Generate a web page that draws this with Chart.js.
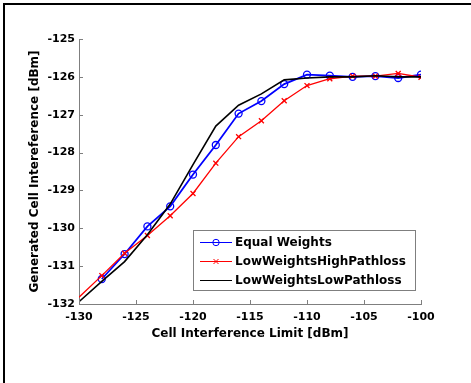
<!DOCTYPE html>
<html>
<head>
<meta charset="utf-8">
<script src="https://cdn.jsdelivr.net/npm/chart.js"></script>
<style>
  html, body { margin: 0; padding: 0; background: #fff; }
  #wrap { position: relative; width: 471px; height: 383px; }
</style>
</head>
<body>
<div id="wrap"><canvas id="myChart" width="471" height="383"></canvas></div>
<script>
// Data
const limits = [-130, -128, -126, -124, -122, -120, -118, -116, -114, -112, -110, -108, -106, -104, -102, -100];
const equalWeights = [null, -131.34, -130.68, -129.95, -129.42, -128.58, -127.80, -126.97, -126.64, -126.19, -125.94, -125.97, -126.00, -125.98, -126.03, -125.94];
const lowHighPathloss = [-131.82, -131.25, -130.66, -130.19, -129.67, -129.08, -128.28, -127.58, -127.16, -126.63, -126.23, -126.05, -125.98, -125.98, -125.91, -126.01];
const lowLowPathloss = [-131.94, -131.40, -130.88, -130.17, -129.36, -128.32, -127.30, -126.75, -126.45, -126.08, -126.03, -126.00, -126.00, -125.97, -126.00, -126.00];
const seriesNames = ['Equal Weights', 'LowWeightsHighPathloss', 'LowWeightsLowPathloss'];
const xTitle = 'Cell Interference Limit [dBm]';
const yTitle = 'Generated Cell Intereference [dBm]';

const FONT = 'DejaVu Sans';
const AXIS_GRAY = '#7f7f7f';

function pts(ys) {
  return limits.map((x, i) => ({ x, y: ys[i] })).filter(p => p.y !== null);
}

// frame lines (top + left) around the figure
const framePlugin = {
  id: 'frame',
  afterDraw(chart) {
    const ctx = chart.ctx;
    ctx.save();
    ctx.fillStyle = '#000';
    ctx.fillRect(3, 3, 468, 2);
    ctx.fillRect(3, 3, 2, 380);
    ctx.restore();
  }
};

// inward tick marks like matlab
const innerTicks = {
  id: 'innerTicks',
  afterDraw(chart) {
    const { ctx, chartArea: a } = chart;
    const xs = chart.scales.x, ys = chart.scales.y;
    ctx.save();
    ctx.strokeStyle = AXIS_GRAY;
    ctx.lineWidth = 1;
    ctx.beginPath();
    ys.ticks.forEach(t => {
      const py = Math.round(ys.getPixelForValue(t.value)) + 0.5;
      ctx.moveTo(a.left, py);
      ctx.lineTo(a.left + 4, py);
    });
    xs.ticks.forEach(t => {
      const px = Math.round(xs.getPixelForValue(t.value)) + 0.5;
      ctx.moveTo(px, a.bottom);
      ctx.lineTo(px, a.bottom - 4);
    });
    ctx.stroke();
    ctx.restore();
  }
};

// boxed legend inside the plot
const boxLegend = {
  id: 'boxLegend',
  afterDraw(chart) {
    const ctx = chart.ctx;
    const bx = 193.5, by = 230.5, bw = 222, bh = 60;
    const rows = [242.5, 261.5, 280.5];
    ctx.save();
    ctx.fillStyle = '#fff';
    ctx.fillRect(bx, by, bw, bh);
    ctx.strokeStyle = AXIS_GRAY;
    ctx.lineWidth = 1;
    ctx.strokeRect(bx, by, bw, bh);
    ctx.font = 'bold 12px "' + FONT + '"';
    ctx.textBaseline = 'middle';
    ctx.textAlign = 'left';
    chart.data.datasets.forEach((ds, i) => {
      const y = rows[i];
      ctx.strokeStyle = ds.borderColor;
      ctx.lineWidth = 1;
      ctx.beginPath();
      ctx.moveTo(200, y);
      ctx.lineTo(232, y);
      ctx.stroke();
      if (ds.pointStyle === 'circle') {
        ctx.beginPath();
        ctx.arc(216, y, 3.2, 0, Math.PI * 2);
        ctx.stroke();
      } else if (ds.pointStyle === 'crossRot') {
        ctx.beginPath();
        ctx.moveTo(213.5, y - 2.5); ctx.lineTo(218.5, y + 2.5);
        ctx.moveTo(218.5, y - 2.5); ctx.lineTo(213.5, y + 2.5);
        ctx.stroke();
      }
      ctx.fillStyle = '#000';
      ctx.fillText(ds.label, 235, y + 0.5);
    });
    ctx.restore();
  }
};

const ctx = document.getElementById('myChart').getContext('2d');
new Chart(ctx, {
  type: 'line',
  data: {
    datasets: [
      {
        label: seriesNames[0],
        data: pts(equalWeights),
        borderColor: '#0000ff',
        borderWidth: 1.8,
        pointStyle: 'circle',
        pointRadius: 3.5,
        pointBorderWidth: 1.3,
        pointBackgroundColor: 'rgba(0,0,0,0)',
        pointBorderColor: '#0000ff',
        order: 2
      },
      {
        label: seriesNames[1],
        data: pts(lowHighPathloss),
        borderColor: '#ff0000',
        borderWidth: 1.3,
        pointStyle: 'crossRot',
        pointRadius: lowHighPathloss.map((v, i) => i === 0 ? 0 : 3.5),
        pointBorderWidth: 1.3,
        pointBorderColor: '#ff0000',
        order: 1
      },
      {
        label: seriesNames[2],
        data: pts(lowLowPathloss),
        borderColor: '#000000',
        borderWidth: 1.6,
        pointStyle: false,
        pointRadius: 0,
        order: 0
      }
    ]
  },
  options: {
    responsive: false,
    animation: false,
    devicePixelRatio: 1,
    layout: { padding: { left: 0, right: 50, top: 39, bottom: 0 } },
    plugins: {
      legend: { display: false },
      tooltip: { enabled: false }
    },
    elements: { line: { tension: 0, fill: false } },
    scales: {
      x: {
        type: 'linear',
        min: -130,
        max: -100,
        afterFit: (s) => { s.height = 79; },
        grid: { display: false, drawTicks: false },
        border: { display: true, color: AXIS_GRAY, width: 1 },
        ticks: {
          stepSize: 5,
          padding: 7,
          color: '#000',
          font: { family: FONT, size: 11, weight: 'bold' },
          maxRotation: 0
        },
        title: {
          display: true,
          text: xTitle,
          color: '#000',
          font: { family: FONT, size: 12, weight: 'bold' },
          padding: { top: 0, bottom: 42 }
        }
      },
      y: {
        type: 'linear',
        min: -132,
        max: -125,
        afterFit: (s) => { s.width = 79; },
        grid: { display: false, drawTicks: false },
        border: { display: true, color: AXIS_GRAY, width: 1 },
        ticks: {
          stepSize: 1,
          padding: 4,
          color: '#000',
          font: { family: FONT, size: 11, weight: 'bold' }
        },
        title: {
          display: true,
          text: yTitle,
          color: '#000',
          font: { family: FONT, size: 12, weight: 'bold' },
          padding: { top: 28, bottom: 0 }
        }
      }
    }
  },
  plugins: [innerTicks, boxLegend, framePlugin]
});
</script>
</body>
</html>
